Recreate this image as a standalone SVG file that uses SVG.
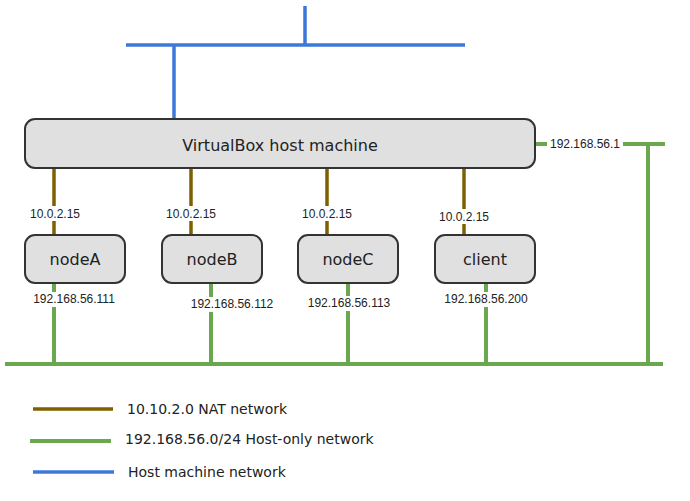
<svg xmlns="http://www.w3.org/2000/svg" width="690" height="501" viewBox="0 0 690 501">
<style>
.box{fill:#e0e0e0;stroke:#333333;stroke-width:2}
.nt{font-family:"DejaVu Sans",Verdana,sans-serif;font-size:16px;fill:#222;text-anchor:middle}
.ip{font-family:"Liberation Sans",Arial,sans-serif;font-size:12px;fill:#222;text-anchor:middle}
.lg{font-family:"DejaVu Sans",Verdana,sans-serif;font-size:14px;fill:#222}
.nat{stroke:#7f6000;stroke-width:3.5;fill:none}
.ho{stroke:#6aa84f;stroke-width:4;fill:none}
.hm{stroke:#3c78d8;stroke-width:3.5;fill:none}
.bg{fill:#ffffff}
</style>
<rect width="690" height="501" fill="#ffffff"/>
<g id="connectors">
<path class="hm" d="M305,6V45M126,45H465M174,45V119"/>
<path class="nat" d="M54,168V235M191,168V235M327,168V235M464,168V235"/>
<path class="ho" d="M54,283V364M211,283V364M348,283V364M486,283V364M5,364H663M648,144V364M535,144H665"/>
</g>
<g id="host">
<rect class="box" x="25" y="119" width="510" height="49" rx="10"/>
<text class="nt" x="280" y="151">VirtualBox host machine</text>
</g>
<g id="nodeA">
<rect class="box" x="25" y="235" width="100" height="48" rx="10"/>
<text class="nt" x="75" y="265">nodeA</text>
</g>
<g id="nodeB">
<rect class="box" x="162" y="235" width="100" height="48" rx="10"/>
<text class="nt" x="212" y="265">nodeB</text>
</g>
<g id="nodeC">
<rect class="box" x="298" y="235" width="100" height="48" rx="10"/>
<text class="nt" x="348" y="265">nodeC</text>
</g>
<g id="client">
<rect class="box" x="435" y="235" width="100" height="48" rx="10"/>
<text class="nt" x="485" y="265">client</text>
</g>
<g id="labels">
<rect class="bg" x="29" y="206" width="50" height="15"/>
<text class="ip" x="55" y="218">10.0.2.15</text>
<rect class="bg" x="166" y="206" width="50" height="15"/>
<text class="ip" x="191" y="218">10.0.2.15</text>
<rect class="bg" x="302" y="206" width="50" height="15"/>
<text class="ip" x="327" y="218">10.0.2.15</text>
<rect class="bg" x="439" y="209" width="50" height="15"/>
<text class="ip" x="464" y="221">10.0.2.15</text>
<rect class="bg" x="31" y="292" width="87" height="15"/>
<text class="ip" x="74" y="303">192.168.56.111</text>
<rect class="bg" x="188" y="297" width="88" height="15"/>
<text class="ip" x="232" y="308">192.168.56.112</text>
<rect class="bg" x="305" y="296" width="88" height="15"/>
<text class="ip" x="349" y="307">192.168.56.113</text>
<rect class="bg" x="442" y="292" width="88" height="15"/>
<text class="ip" x="486" y="303">192.168.56.200</text>
<rect class="bg" x="547" y="137" width="76" height="15"/>
<text class="ip" x="585" y="148">192.168.56.1</text>
</g>
<g id="legend">
<line class="nat" x1="33" y1="409" x2="113" y2="409"/>
<text class="lg" x="127" y="414">10.10.2.0 NAT network</text>
<line class="ho" x1="30" y1="441" x2="111" y2="441"/>
<text class="lg" x="125" y="444">192.168.56.0/24 Host-only network</text>
<line class="hm" x1="33" y1="472" x2="114" y2="472"/>
<text class="lg" x="128" y="477">Host machine network</text>
</g>
</svg>
